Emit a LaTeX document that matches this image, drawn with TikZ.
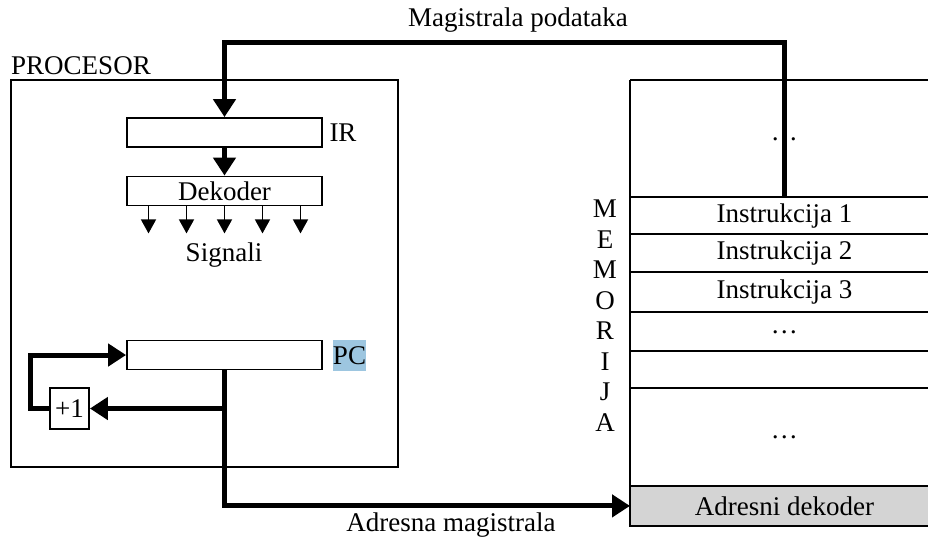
\documentclass[tikz,border=0pt]{standalone}
\usepackage{fontspec}
\setmainfont{Liberation Serif}
\usetikzlibrary{positioning, arrows.meta}
\definecolor{pcblue}{RGB}{157,198,224}
\definecolor{adrgray}{RGB}{212,212,212}
\tikzset{
    cell/.style={inner sep=0pt, anchor=north west, minimum width=154pt, minimum height=#1},
}

\begin{document}
\begin{tikzpicture}[
    x=0.5pt, y=-0.5pt,
    font=\fontsize{13.5}{16}\selectfont,
    box/.style={draw, line width=0.9pt, inner sep=0pt},
    reg/.style={box, minimum width=97.5pt, minimum height=14.5pt},
    bus/.style={line width=2.5pt, -{Triangle[length=9pt,width=11pt]}},
    sig/.style={line width=0.8pt, -{Triangle[length=7pt,width=7.5pt]}},
    grid/.style={line width=0.9pt},
]
\useasboundingbox (0,0) rectangle (928,538);

% Processor
\node[box, minimum width=193.5pt, minimum height=193.5pt] (proc) at (204.5,273.5) {};
\node (proclbl) at (81,66) {PROCESOR};
\node[reg] (ir) at (224.5,132.5) {};
\node (irlbl) at (343,133) {IR};
\node[reg] (dek) at (224.5,191) {Dekoder};
\node (signali) at (224,255) {Signali};
\node[reg] (pc) at (224.5,355) {};
\node[fill=pcblue, minimum width=16.5pt, minimum height=15.5pt, inner sep=0pt] (pclbl) at (349.5,355.5) {PC};
\node[box, minimum width=19.5pt, minimum height=20.5pt] (inc) at (69.5,408.5) {+1};

% Memory
\node[cell=58.5pt] (m0) at (630,80) {\ldots};
\node[cell=18.5pt] (i1) at (630,197) {Instrukcija 1};
\node[cell=19pt] (i2) at (630,234) {Instrukcija 2};
\node[cell=20pt] (i3) at (630,272) {Instrukcija 3};
\node[cell=19.5pt] (m4) at (630,312) {\ldots};
\node[cell=18.5pt] (m5) at (630,351) {};
\node[cell=49pt] (m6) at (630,388) {\ldots};
\node[cell=19.5pt, fill=adrgray] (adr) at (630,486) {Adresni dekoder};
\foreach \c in {m0,i1,i2,i3,m4,m5,m6,adr}
    \draw[grid] (\c.north west) -- (\c.north east);
\draw[grid] (m0.north west) -- (adr.south west) -- (adr.south east);
\foreach \l [count=\i] in {M,E,M,O,R,I,J,A}
    \node (mem\i) at (605,178.5+30.5*\i) {\l};

% Buses
\node (dbuslbl) at (518,20) {Magistrala podataka};
\node (abuslbl) at (451,525) {Adresna magistrala};
\coordinate (dbend) at (224,42);
\draw[bus] (i1.north) |- (ir.north |- dbend) -- (ir.north);
\draw[bus] (ir) -- (dek);
\foreach \dx in {-76,-38,0,38,76}
    \draw[sig] ([xshift=\dx*0.5pt]dek.south) -- ++(0,27);
\draw[bus] (pc.south) |- (inc.east);
\draw[bus] (pc.south) |- (adr.west);
\draw[bus] (inc.west) -- ++(-19,0) |- (pc.west);

\end{tikzpicture}
\end{document}
